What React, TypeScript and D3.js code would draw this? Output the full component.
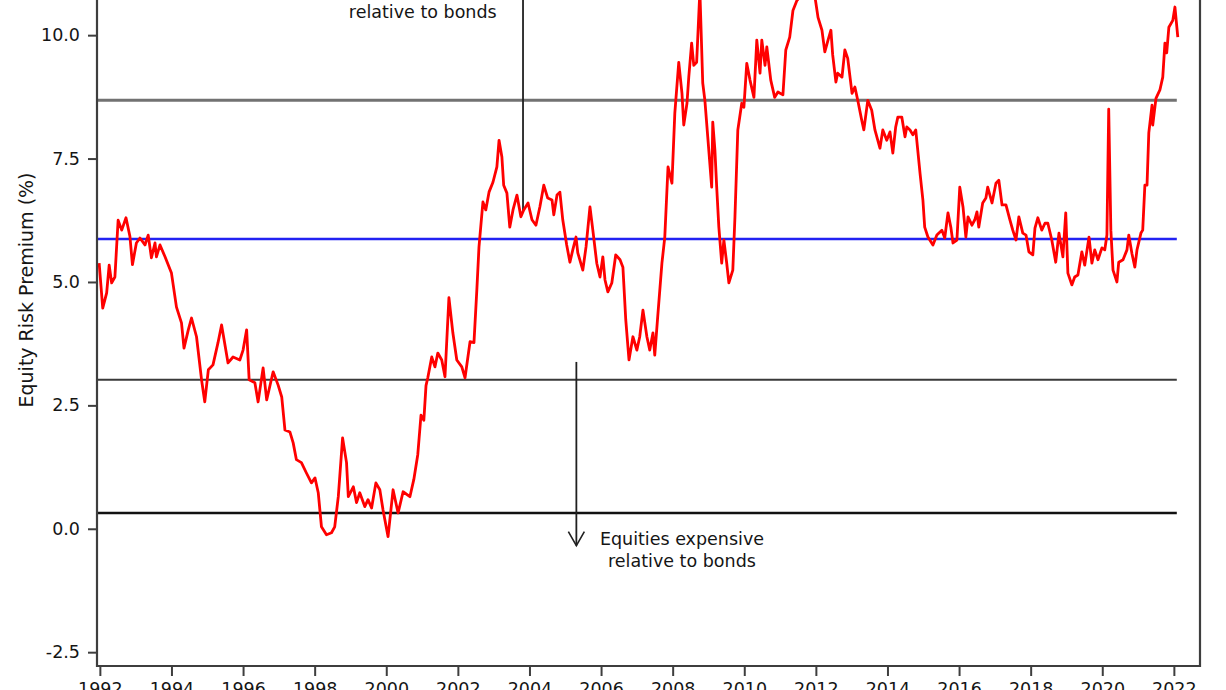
import { useEffect, useRef } from "react";
import * as d3 from "d3";

// ─── Data ([year, equity risk premium %]) ────────────────────────────────────

const ERP: [number, number][] = [
  [1991.98, 5.38], [1992.08, 4.47], [1992.19, 4.78], [1992.26, 5.34], [1992.33, 4.98],
  [1992.42, 5.1], [1992.51, 6.25], [1992.61, 6.05], [1992.73, 6.3], [1992.84, 5.92],
  [1992.91, 5.35], [1993.02, 5.79], [1993.12, 5.89], [1993.26, 5.75], [1993.35, 5.95],
  [1993.44, 5.49], [1993.54, 5.79], [1993.58, 5.51], [1993.68, 5.75], [1993.82, 5.51],
  [1994.0, 5.18], [1994.14, 4.49], [1994.28, 4.17], [1994.35, 3.66], [1994.47, 4.03],
  [1994.56, 4.27], [1994.7, 3.89], [1994.84, 3.02], [1994.93, 2.57], [1995.03, 3.22],
  [1995.16, 3.32], [1995.3, 3.77], [1995.4, 4.13], [1995.58, 3.36], [1995.72, 3.48],
  [1995.91, 3.42], [1996.0, 3.62], [1996.1, 4.03], [1996.17, 3.02], [1996.33, 2.96],
  [1996.42, 2.57], [1996.56, 3.26], [1996.66, 2.61], [1996.84, 3.18], [1996.98, 2.91],
  [1997.08, 2.67], [1997.17, 2.0], [1997.31, 1.96], [1997.4, 1.74], [1997.49, 1.4],
  [1997.63, 1.34], [1997.77, 1.13], [1997.91, 0.93], [1998.01, 1.03], [1998.1, 0.73],
  [1998.19, 0.04], [1998.33, -0.12], [1998.47, -0.08], [1998.56, 0.04], [1998.66, 0.65],
  [1998.78, 1.84], [1998.89, 1.34], [1998.94, 0.65], [1999.08, 0.85], [1999.17, 0.53],
  [1999.26, 0.73], [1999.4, 0.45], [1999.49, 0.59], [1999.59, 0.42], [1999.71, 0.93],
  [1999.82, 0.79], [1999.91, 0.38], [2000.05, -0.16], [2000.19, 0.79], [2000.33, 0.32],
  [2000.47, 0.75], [2000.66, 0.65], [2000.77, 1.0], [2000.88, 1.5], [2000.97, 2.3],
  [2001.05, 2.2], [2001.11, 2.9], [2001.16, 3.06], [2001.27, 3.48], [2001.36, 3.28],
  [2001.44, 3.56], [2001.55, 3.42], [2001.64, 3.08], [2001.75, 4.68], [2001.86, 3.97],
  [2001.97, 3.42], [2002.11, 3.28], [2002.2, 3.06], [2002.34, 3.79], [2002.45, 3.77],
  [2002.53, 4.84], [2002.59, 5.71], [2002.7, 6.62], [2002.78, 6.46], [2002.87, 6.82],
  [2002.98, 7.02], [2003.09, 7.33], [2003.15, 7.87], [2003.23, 7.53], [2003.28, 6.96],
  [2003.37, 6.8], [2003.45, 6.11], [2003.54, 6.46], [2003.65, 6.76], [2003.76, 6.32],
  [2003.84, 6.46], [2003.96, 6.6], [2004.07, 6.26], [2004.18, 6.15], [2004.29, 6.52],
  [2004.4, 6.96], [2004.51, 6.7], [2004.63, 6.66], [2004.68, 6.36], [2004.77, 6.76],
  [2004.85, 6.82], [2004.93, 6.26], [2005.04, 5.75], [2005.13, 5.4], [2005.21, 5.65],
  [2005.3, 5.91], [2005.35, 5.59], [2005.49, 5.24], [2005.58, 5.71], [2005.69, 6.52],
  [2005.77, 6.05], [2005.88, 5.38], [2005.97, 5.1], [2006.05, 5.51], [2006.11, 5.04],
  [2006.19, 4.8], [2006.3, 4.98], [2006.41, 5.55], [2006.53, 5.45], [2006.61, 5.3],
  [2006.69, 4.23], [2006.78, 3.42], [2006.89, 3.89], [2007.0, 3.62], [2007.08, 3.89],
  [2007.17, 4.43], [2007.28, 3.89], [2007.36, 3.62], [2007.45, 3.97], [2007.5, 3.52],
  [2007.59, 4.37], [2007.7, 5.38], [2007.78, 5.91], [2007.87, 7.33], [2007.98, 7.0],
  [2008.06, 8.42], [2008.17, 9.45], [2008.26, 8.82], [2008.31, 8.18], [2008.4, 8.62],
  [2008.45, 9.15], [2008.53, 9.84], [2008.59, 9.39], [2008.67, 9.45], [2008.76, 10.9],
  [2008.84, 9.03], [2008.9, 8.68], [2008.98, 7.94], [2009.09, 6.92], [2009.12, 8.24],
  [2009.18, 7.67], [2009.23, 6.92], [2009.29, 6.11], [2009.37, 5.38], [2009.43, 5.85],
  [2009.51, 5.38], [2009.57, 4.98], [2009.68, 5.24], [2009.74, 6.32], [2009.82, 8.08],
  [2009.93, 8.62], [2009.99, 8.54], [2010.07, 9.43], [2010.16, 9.09], [2010.27, 8.74],
  [2010.35, 9.9], [2010.44, 9.23], [2010.49, 9.9], [2010.58, 9.39], [2010.63, 9.76],
  [2010.74, 9.09], [2010.85, 8.74], [2010.94, 8.85], [2011.08, 8.79], [2011.16, 9.7],
  [2011.27, 9.96], [2011.36, 10.5], [2011.47, 10.7], [2011.64, 10.85], [2011.83, 10.75],
  [2011.97, 10.8], [2012.06, 10.36], [2012.17, 10.1], [2012.25, 9.66], [2012.34, 9.9],
  [2012.42, 10.1], [2012.47, 9.6], [2012.56, 9.05], [2012.61, 9.23], [2012.73, 9.15],
  [2012.81, 9.7], [2012.89, 9.53], [2013.01, 8.82], [2013.09, 8.95], [2013.17, 8.68],
  [2013.28, 8.28], [2013.34, 8.08], [2013.45, 8.68], [2013.56, 8.48], [2013.65, 8.08],
  [2013.79, 7.71], [2013.87, 8.08], [2013.98, 7.87], [2014.07, 8.04], [2014.15, 7.61],
  [2014.23, 8.14], [2014.29, 8.34], [2014.4, 8.34], [2014.49, 7.94], [2014.54, 8.14],
  [2014.63, 8.08], [2014.71, 7.98], [2014.79, 8.08], [2014.91, 7.2], [2014.99, 6.66],
  [2015.04, 6.11], [2015.13, 5.91], [2015.27, 5.75], [2015.38, 5.95], [2015.52, 6.05],
  [2015.6, 5.89], [2015.69, 6.4], [2015.77, 6.11], [2015.83, 5.79], [2015.94, 5.85],
  [2016.02, 6.92], [2016.11, 6.52], [2016.19, 5.91], [2016.25, 6.32], [2016.36, 6.15],
  [2016.44, 6.26], [2016.5, 6.42], [2016.55, 6.11], [2016.66, 6.6], [2016.75, 6.7],
  [2016.8, 6.92], [2016.92, 6.6], [2017.03, 7.0], [2017.11, 7.06], [2017.2, 6.56],
  [2017.31, 6.56], [2017.42, 6.26], [2017.5, 6.05], [2017.59, 5.85], [2017.67, 6.32],
  [2017.78, 5.99], [2017.87, 5.95], [2017.95, 5.61], [2018.06, 5.55], [2018.12, 6.09],
  [2018.2, 6.3], [2018.31, 6.05], [2018.4, 6.19], [2018.48, 6.19], [2018.59, 5.85],
  [2018.7, 5.4], [2018.79, 5.99], [2018.9, 5.51], [2018.98, 6.4], [2019.04, 5.18],
  [2019.15, 4.94], [2019.23, 5.1], [2019.32, 5.14], [2019.43, 5.61], [2019.51, 5.34],
  [2019.63, 5.91], [2019.71, 5.38], [2019.79, 5.65], [2019.88, 5.45], [2019.99, 5.69],
  [2020.07, 5.65], [2020.13, 5.95], [2020.18, 8.5], [2020.24, 6.05], [2020.3, 5.24],
  [2020.41, 5.0], [2020.46, 5.4], [2020.58, 5.45], [2020.69, 5.65], [2020.74, 5.95],
  [2020.83, 5.57], [2020.91, 5.3], [2020.97, 5.65], [2021.08, 5.99], [2021.13, 6.05],
  [2021.19, 6.96], [2021.25, 6.96], [2021.3, 8.02], [2021.39, 8.58], [2021.41, 8.18],
  [2021.5, 8.72], [2021.61, 8.89], [2021.69, 9.15], [2021.75, 9.84], [2021.8, 9.64],
  [2021.86, 10.16], [2021.97, 10.3], [2022.03, 10.57], [2022.11, 9.96],
];

// Long-run average and standard-deviation bands
const MEAN_ERP = 5.87;
const PLUS_1SD = 8.68;
const MINUS_1SD = 3.02;
const MINUS_2SD = 0.32;

const Y_TICKS = [-2.5, 0, 2.5, 5, 7.5, 10];
const X_TICKS = [
  1992, 1994, 1996, 1998, 2000, 2002, 2004, 2006, 2008, 2010, 2012, 2014,
  2016, 2018, 2020, 2022,
];

// Annotations: arrow x (year), arrow start / end (%); text anchored on its last line
const CHEAP_ARROW = { year: 2003.82, from: 6.46, to: 11.25 };
const CHEAP_TEXT = { year: 2001.02, value: 10.34, lines: ["Equities cheap", "relative to bonds"] };
const EXPENSIVE_ARROW = { year: 2005.31, from: 3.38, to: -0.34 };
const EXPENSIVE_TEXT = { year: 2008.26, value: -0.78, lines: ["Equities expensive", "relative to bonds"] };

// ─── Palette ──────────────────────────────────────────────────────────────────

const RED = "#ff0000";
const BLUE = "#2222f2";
const FRAME = "#3e3e3e";
const INK = "#151515";
const FONT = "'DejaVu Sans', sans-serif";

export default function App() {
  const svgRef = useRef<SVGSVGElement>(null);

  useEffect(() => {
    if (!svgRef.current) return;
    const left = 97,
      right = 1200,
      bottom = 666,
      top = -30;

    const svg = d3.select(svgRef.current);
    svg.selectAll("*").remove();

    const x = d3.scaleLinear().domain([1991.92, 2022.73]).range([left, right]);
    const y = d3.scaleLinear().domain([-2.78, 11.32]).range([bottom, top]);

    const lastYear = d3.max(ERP, (d) => d[0])!;

    // Reference levels
    const levels = [
      { v: PLUS_1SD, stroke: "#727272", w: 3 },
      { v: MEAN_ERP, stroke: BLUE, w: 2.6 },
      { v: MINUS_1SD, stroke: "#3a3a3a", w: 2 },
      { v: MINUS_2SD, stroke: "#111111", w: 2.6 },
    ];
    levels.forEach((l) => {
      svg
        .append("line")
        .attr("x1", left)
        .attr("x2", x(lastYear) - 1)
        .attr("y1", y(l.v))
        .attr("y2", y(l.v))
        .attr("stroke", l.stroke)
        .attr("stroke-width", l.w);
    });

    // Annotation arrows
    const arrowColor = "#202020";
    [CHEAP_ARROW, EXPENSIVE_ARROW].forEach((a) => {
      const ax = x(a.year);
      const y0 = y(a.from);
      const y1 = y(a.to);
      const dir = y1 > y0 ? 1 : -1;
      svg
        .append("line")
        .attr("x1", ax)
        .attr("x2", ax)
        .attr("y1", y0)
        .attr("y2", y1)
        .attr("stroke", arrowColor)
        .attr("stroke-width", 1.8);
      svg
        .append("path")
        .attr("d", `M${ax - 8},${y1 - dir * 14} L${ax},${y1} L${ax + 8},${y1 - dir * 14}`)
        .attr("fill", "none")
        .attr("stroke", arrowColor)
        .attr("stroke-width", 1.6);
    });

    [CHEAP_TEXT, EXPENSIVE_TEXT].forEach((t) => {
      const txt = svg
        .append("text")
        .attr("x", x(t.year))
        .attr("y", y(t.value))
        .attr("text-anchor", "middle")
        .attr("font-family", FONT)
        .attr("font-size", 17.5)
        .attr("fill", INK);
      t.lines.forEach((ln, i) => {
        txt
          .append("tspan")
          .attr("x", x(t.year))
          .attr("dy", i === 0 ? -(t.lines.length - 1) * 22 : 22)
          .text(ln);
      });
    });

    // ERP series
    const line = d3
      .line<[number, number]>()
      .x((d) => x(d[0]))
      .y((d) => y(d[1]));
    svg
      .append("path")
      .datum(ERP)
      .attr("d", line)
      .attr("fill", "none")
      .attr("stroke", RED)
      .attr("stroke-width", 2.8)
      .attr("stroke-linejoin", "round");

    // Frame
    svg
      .append("path")
      .attr("d", `M${left},${top} L${left},${bottom} L${right},${bottom} L${right},${top}`)
      .attr("fill", "none")
      .attr("stroke", FRAME)
      .attr("stroke-width", 2.2);

    // Y axis
    svg
      .append("g")
      .attr("transform", `translate(${left},0)`)
      .call(
        d3
          .axisLeft(y)
          .tickValues(Y_TICKS)
          .tickSize(9)
          .tickPadding(8)
          .tickFormat((d) => (d as number).toFixed(1)),
      )
      .call((ax) => {
        ax.select(".domain").remove();
        ax.selectAll(".tick line").attr("stroke", FRAME).attr("stroke-width", 2);
        ax.selectAll(".tick text")
          .attr("fill", INK)
          .attr("font-size", 17.5)
          .attr("font-family", FONT);
      });

    // X axis
    svg
      .append("g")
      .attr("transform", `translate(0,${bottom})`)
      .call(
        d3
          .axisBottom(x)
          .tickValues(X_TICKS)
          .tickSize(10)
          .tickPadding(7)
          .tickFormat((d) => String(d)),
      )
      .call((ax) => {
        ax.select(".domain").remove();
        ax.selectAll(".tick line").attr("stroke", FRAME).attr("stroke-width", 2);
        ax.selectAll(".tick text")
          .attr("fill", INK)
          .attr("font-size", 17.5)
          .attr("font-family", FONT);
      });

    // Y axis title
    svg
      .append("text")
      .attr("transform", `translate(33,290) rotate(-90)`)
      .attr("text-anchor", "middle")
      .attr("font-family", FONT)
      .attr("font-size", 19)
      .attr("fill", INK)
      .text("Equity Risk Premium (%)");
  }, []);

  return (
    <svg
      ref={svgRef}
      width={1226}
      height={690}
      style={{ position: "absolute", left: 0, top: 0, display: "block", background: "#fff" }}
    />
  );
}
